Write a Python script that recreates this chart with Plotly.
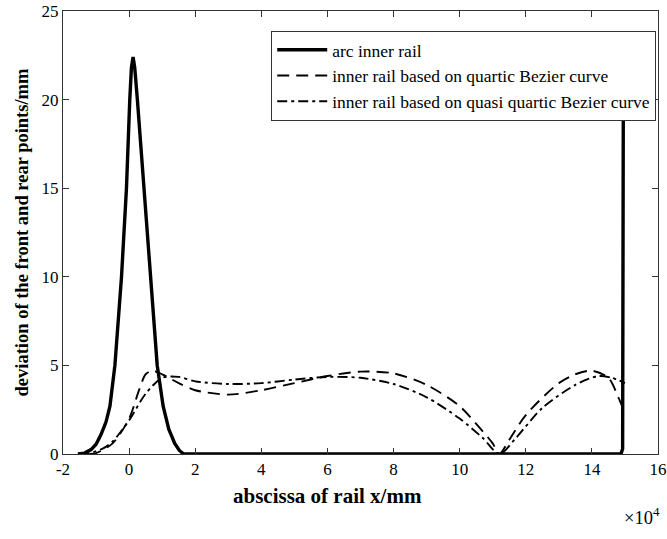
import plotly.graph_objects as go

# x values in units of 10^4 mm
arc_x = [-1.55, -1.35, -1.15, -1.0, -0.85, -0.7, -0.58, -0.43, -0.23, -0.08, 0.02, 0.07, 0.12, 0.17, 0.25, 0.45, 0.63, 0.85, 1.03, 1.2, 1.38, 1.52, 1.65, 14.88, 14.93, 14.95]
arc_y = [0.0, 0.05, 0.25, 0.55, 1.1, 1.8, 2.7, 5.0, 10.0, 15.0, 20.0, 21.8, 22.4, 21.8, 20.0, 15.0, 10.0, 5.0, 2.7, 1.4, 0.6, 0.2, 0.0, 0.0, 0.3, 19.3]

quartic_x = [-1.2, -1.0, -0.5, 0.0, 0.3, 0.5, 0.7, 1.0, 1.5, 2.0, 3.0, 4.0, 5.0, 6.0, 7.0, 8.0, 9.0, 10.0, 10.5, 11.0, 11.2, 11.5, 12.0, 13.0, 13.5, 14.0, 14.5, 14.8, 15.0]
quartic_y = [0.0, 0.05, 0.6, 2.0, 3.6, 4.5, 4.7, 4.5, 4.0, 3.6, 3.35, 3.6, 4.0, 4.4, 4.65, 4.55, 3.9, 2.7, 1.7, 0.6, 0.0, 0.8, 2.2, 4.0, 4.5, 4.7, 4.3, 3.2, 2.3]

quasi_x = [-1.5, -1.2, -0.8, -0.5, 0.0, 0.5, 1.0, 1.5, 2.0, 3.0, 4.0, 5.0, 6.0, 7.0, 8.0, 9.0, 10.0, 10.7, 11.2, 11.7, 12.5, 13.5, 14.2, 14.6, 15.0]
quasi_y = [0.0, 0.05, 0.3, 0.7, 1.9, 3.4, 4.3, 4.35, 4.1, 3.95, 4.0, 4.2, 4.35, 4.3, 3.95, 3.2, 2.0, 0.9, 0.0, 0.9, 2.6, 3.9, 4.4, 4.3, 4.0]

x_ticks = [-2, 0, 2, 4, 6, 8, 10, 12, 14, 16]
y_ticks = [0, 5, 10, 15, 20, 25]

font = "Liberation Serif, Times New Roman, serif"

fig = go.Figure()
fig.add_trace(go.Scatter(x=arc_x, y=arc_y, mode="lines", name="arc inner rail",
                         line=dict(color="black", width=3.4)))
fig.add_trace(go.Scatter(x=quartic_x, y=quartic_y, mode="lines", name="inner rail based on quartic Bezier curve",
                         line=dict(color="black", width=1.9, dash="12px,7px", shape="spline", smoothing=0.8)))
fig.add_trace(go.Scatter(x=quasi_x, y=quasi_y, mode="lines", name="inner rail based on quasi quartic Bezier curve",
                         line=dict(color="black", width=1.9, dash="10px,4px,3px,4px", shape="spline", smoothing=0.8)))

axis_common = dict(showline=True, linecolor="#333", linewidth=1, mirror="ticks",
                   ticks="inside", ticklen=6, tickcolor="#333", showgrid=False, zeroline=False,
                   automargin=False,
                   tickfont=dict(family=font, size=17, color="black"))

fig.update_xaxes(range=[-2, 16], tickvals=x_ticks, ticktext=[str(v) for v in x_ticks], **axis_common)
fig.update_yaxes(range=[0, 25], tickvals=y_ticks,
                 title=dict(text="<b>deviation of the front and rear points/mm</b>", font=dict(family=font, size=18.5, color="black"), standoff=8),
                 **axis_common)

# x-axis title (offset left of centre, as in the reference)
fig.add_annotation(x=0.444, y=0, xref="paper", yref="paper", xanchor="center", yanchor="top",
                   yshift=-28, showarrow=False,
                   text="<b>abscissa of rail x/mm</b>", font=dict(family=font, size=21, color="black"))

fig.add_annotation(x=1.0, y=0, xref="paper", yref="paper", xanchor="right", yanchor="top",
                   yshift=-48, xshift=4, showarrow=False,
                   text="×10<sup>4</sup>", font=dict(family=font, size=18.5, color="black"))

fig.update_layout(width=667, height=539,
                  margin=dict(l=63, r=9, t=11, b=85),
                  paper_bgcolor="white", plot_bgcolor="white",
                  font=dict(family=font, color="black"),
                  legend=dict(x=0.997, y=0.955, xanchor="right", yanchor="top",
                              bgcolor="white", bordercolor="#333", borderwidth=1,
                              font=dict(family=font, size=17.5, color="black"),
                              tracegroupgap=0, itemwidth=50))

fig.write_html("out.html", config={"displayModeBar": False},
               post_script="document.body.style.margin='0';document.body.style.overflow='hidden';")
